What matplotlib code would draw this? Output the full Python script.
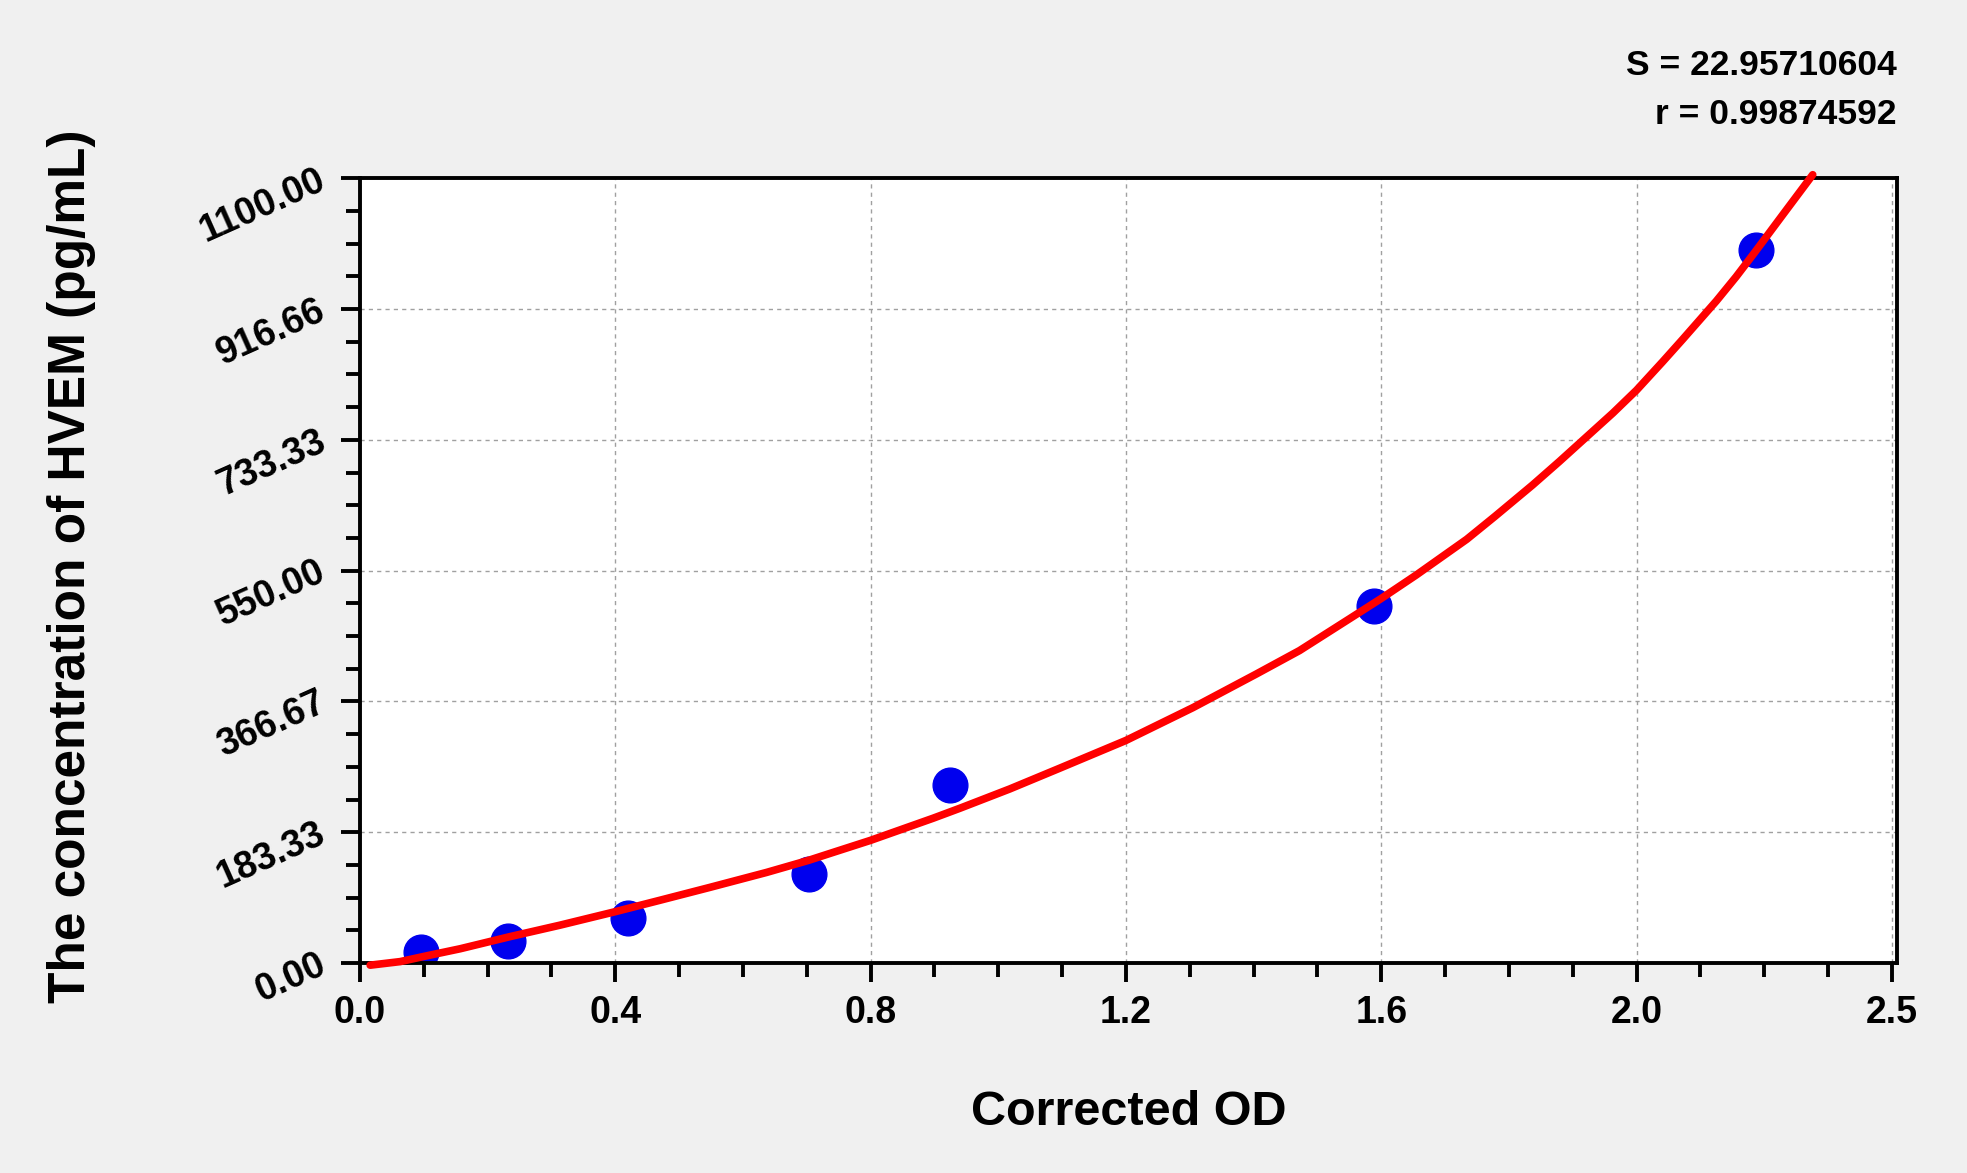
import matplotlib
matplotlib.use("Agg")
import matplotlib.pyplot as plt
from matplotlib.ticker import FixedLocator, MultipleLocator

plt.rcParams['font.family'] = ['Liberation Sans', 'DejaVu Sans']
plt.rcParams['font.weight'] = 'bold'

# standards (corrected OD vs concentration)
od = [0.096, 0.232, 0.420, 0.703, 0.925, 1.589, 2.187]
conc = [15.6, 31.25, 62.5, 125, 250, 500, 1000]

# fitted curve
fit_od = [0.016, 0.063, 0.104, 0.157, 0.235, 0.313, 0.40, 0.47, 0.548, 0.637,
          0.703, 0.741, 0.80, 0.898, 0.94, 1.018, 1.096, 1.2, 1.305, 1.404,
          1.472, 1.551, 1.60, 1.655, 1.734, 1.778, 1.837, 1.879, 1.921, 1.963,
          2.0, 2.041, 2.072, 2.125, 2.156, 2.185, 2.23, 2.276]
fit_conc = [-3, 2, 10, 20, 37, 53, 72, 88, 106, 127,
            144, 155, 172, 203, 217, 244, 273, 312, 358, 405,
            438, 483, 511, 544, 594, 626, 670, 703, 737, 771,
            803, 843, 874, 928, 962, 996, 1050, 1105]

xticks = [0.0, 0.4, 0.8, 1.2, 1.6, 2.0, 2.4]
xticklabels = ['0.0', '0.4', '0.8', '1.2', '1.6', '2.0', '2.5']
yticks = [0, 183.33, 366.67, 550.0, 733.33, 916.66, 1100.0]
yticklabels = ['0.00', '183.33', '366.67', '550.00', '733.33', '916.66', '1100.00']

S = "22.95710604"
r = "0.99874592"

fig = plt.figure(figsize=(19.67, 11.73), dpi=100, facecolor='#f0f0f0')
ax = fig.add_axes([0.183, 0.179, 0.7814, 0.669])
ax.set_facecolor('white')

ax.plot(fit_od, fit_conc, color='#ff0000', lw=5.5, zorder=3, clip_on=False,
        solid_capstyle='round', solid_joinstyle='round')
ax.plot(od, conc, 'o', color='#0000ee', markersize=25, zorder=2)

ax.set_xlim(0, 2.408)
ax.set_ylim(0, 1100)

ax.xaxis.set_major_locator(FixedLocator(xticks))
ax.set_xticklabels(xticklabels)
ax.xaxis.set_minor_locator(MultipleLocator(0.1))
ax.yaxis.set_major_locator(FixedLocator(yticks))
ax.set_yticklabels(yticklabels, rotation=24, ha='right', va='center',
                   rotation_mode='anchor')
ax.yaxis.set_minor_locator(MultipleLocator(1100 / 24))

ax.tick_params(which='major', direction='out', length=14, width=2.8,
               labelsize=27)
ax.tick_params(which='minor', direction='out', length=10, width=2.8)
ax.tick_params(axis='x', which='major', pad=9)
ax.tick_params(axis='y', which='major', pad=12)

for sp in ax.spines.values():
    sp.set_linewidth(2.8)

ax.grid(True, which='major', linestyle=(0, (3, 3)), color='#a0a0a0', lw=1)
ax.set_axisbelow(True)

ax.set_xlabel('Corrected OD', fontsize=35, fontweight='bold')
ax.xaxis.set_label_coords(0.5, -0.191)
ax.xaxis.label.set_va('center')
ax.set_ylabel('The concentration of HVEM (pg/mL)', fontsize=37,
              fontweight='bold')
ax.yaxis.set_label_coords(-0.1877, 0.505)
ax.yaxis.label.set_va('center')

fig.text(0.9644, 0.944, 'S = ' + S, ha='right', va='center', fontsize=25.5,
         fontweight='bold')
fig.text(0.9644, 0.902, 'r = ' + r, ha='right', va='center', fontsize=25.5,
         fontweight='bold')

fig.savefig('out.png', dpi=100, facecolor=fig.get_facecolor())
